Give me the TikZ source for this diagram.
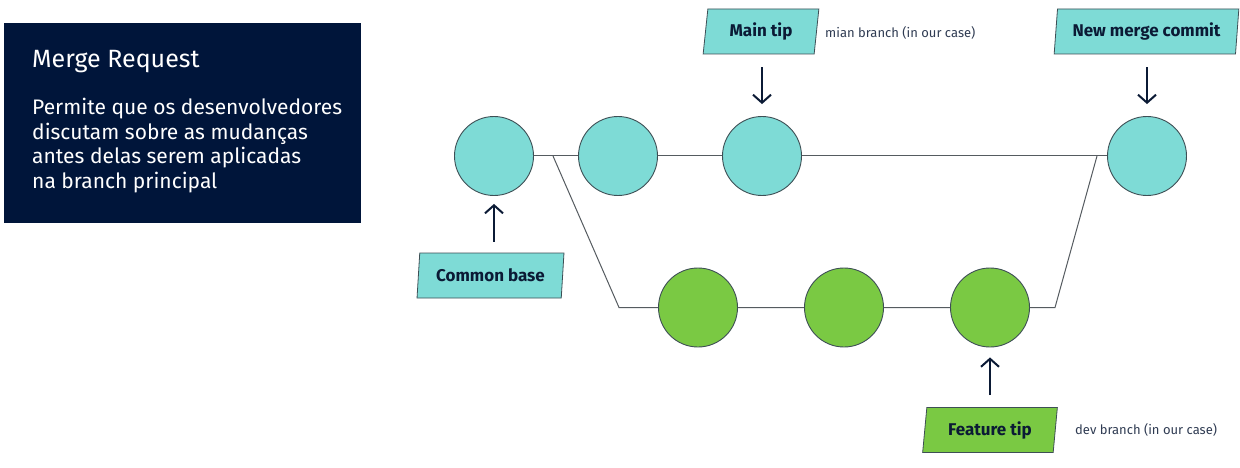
\documentclass[tikz,border=0pt]{standalone}
\usepackage{fontspec}
\setmainfont{Fira Sans}
\usetikzlibrary{shapes.geometric,arrows.meta,backgrounds}
\definecolor{navy}{HTML}{00153A}
\definecolor{ink}{HTML}{0B1A35}
\definecolor{teal}{HTML}{7EDBD6}
\definecolor{lgreen}{HTML}{7AC943}
\definecolor{edge}{HTML}{3E4F55}
\definecolor{wire}{HTML}{555B60}
\tikzset{
  commit/.style={circle, draw=edge, line width=0.9pt, minimum size=79pt, inner sep=0pt},
  tealc/.style={commit, fill=teal},
  greenc/.style={commit, fill=lgreen},
  tag/.style={trapezium, trapezium left angle=81, trapezium right angle=99,
    trapezium stretches=true, draw=edge, line width=0.8pt, minimum height=45pt,
    inner sep=0pt, text=ink, font=\fontsize{17}{20}\selectfont\bfseries},
  ptr/.style={draw=ink, line width=2pt, -{Straight Barb[length=8pt,width=18pt,line width=2pt]}},
  wireline/.style={draw=wire, line width=1pt},
  note/.style={text=ink!85, font=\fontsize{13}{15}\selectfont, inner sep=0pt},
}
\begin{document}
\begin{tikzpicture}[x=1pt,y=-1pt]
\useasboundingbox (0,0) rectangle (1240,468);
% info box
\node[fill=navy, minimum width=357pt, minimum height=200pt, inner sep=0pt] (box) at (182.5,123) {};
\node[anchor=base west, text=white, font=\fontsize{25}{28}\selectfont, inner sep=0pt] (title) at (32,68) {Merge Request};
\node[anchor=north west, text=white, font=\fontsize{21}{24.7}\selectfont, align=left, inner sep=0pt] (body) at (32,98)
  {Permite que os desenvolvedores\\discutam sobre as mudanças\\antes delas serem aplicadas\\na branch principal};
% commits
\node[tealc] (c1) at (494,156) {};
\node[tealc] (c2) at (618,156) {};
\node[tealc] (c3) at (762,156) {};
\node[tealc] (m) at (1147,156) {};
\node[greenc] (g1) at (698,307.5) {};
\node[greenc] (g2) at (844,307.5) {};
\node[greenc] (g3) at (990,307.5) {};
\coordinate (fork) at (553,156);
\coordinate (b1) at (619,307.5);
\coordinate (b2) at (1055,307.5);
\coordinate (join) at (1097,156);
\begin{scope}[on background layer]
\fill[white] (0,0) rectangle (1240,468);
\draw[wireline] (c1) -- (m);
\draw[wireline] (fork) -- (b1) -- (b2) -- (join);
\end{scope}
% tags
\node[tag, fill=teal, minimum width=116pt] (maintip) at (761,31.5) {Main tip};
\node[tag, fill=teal, minimum width=185pt] (newmerge) at (1146.5,31.5) {New merge commit};
\node[tag, fill=teal, minimum width=147pt] (cbase) at (490.5,275.5) {Common base};
\node[tag, fill=lgreen, minimum width=136pt] (ftip) at (990,430) {Feature tip};
% notes
\node[note, anchor=west] (n1) at (825,33) {mian branch (in our case)};
\node[note, anchor=west] (n2) at (1075,430) {dev branch (in our case)};
% pointers
\draw[ptr] (c3.north |- maintip.south) ++(0,13) -- ([yshift=12pt]c3.north);
\draw[ptr] (m.north |- newmerge.south) ++(0,13) -- ([yshift=12pt]m.north);
\draw[ptr] (c1.south |- cbase.north) ++(0,-11) -- ([yshift=-8pt]c1.south);
\draw[ptr] (g3.south |- ftip.north) ++(0,-12) -- ([yshift=-10pt]g3.south);
\end{tikzpicture}
\end{document}
